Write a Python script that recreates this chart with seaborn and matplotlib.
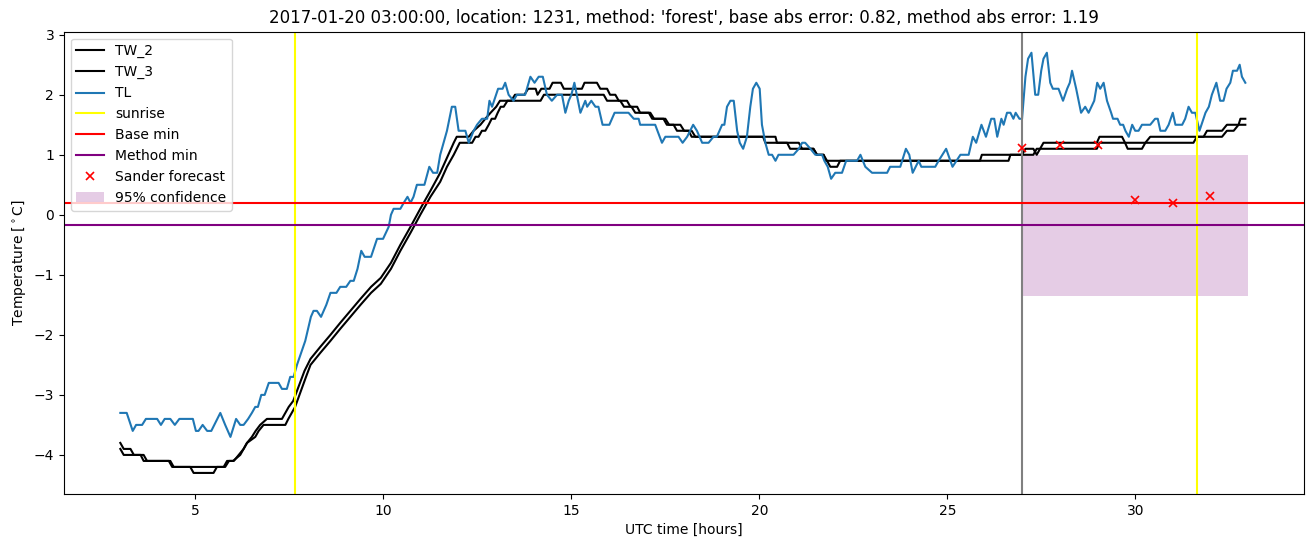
import numpy as np
import pandas as pd
import matplotlib
matplotlib.use("Agg")
import matplotlib.pyplot as plt
import seaborn as sns

# ---------------- data ----------------
tl_hours = [3.0, 3.17, 3.33, 3.42, 3.58, 3.68, 3.98, 4.08, 4.18, 4.33, 4.45, 4.57, 4.93, 5.01, 5.08,
            5.19, 5.31, 5.42, 5.66, 5.79, 5.93, 6.08, 6.19, 6.28, 6.4, 6.5, 6.59, 6.66, 6.75, 6.84,
            6.95, 7.21, 7.3, 7.43, 7.52, 7.61, 7.7, 7.92, 8.07, 8.14, 8.23, 8.34, 8.48, 8.59, 8.75,
            8.85, 9.01, 9.12, 9.21, 9.31, 9.41, 9.5, 9.67, 9.83, 9.99, 10.14, 10.2, 10.27, 10.45, 10.54,
            10.64, 10.72, 10.8, 10.89, 11.09, 11.22, 11.32, 11.43, 11.51, 11.69, 11.82, 11.91, 12.0, 12.18, 12.27,
            12.4, 12.49, 12.62, 12.76, 12.82, 12.89, 13.05, 13.17, 13.24, 13.33, 13.46, 13.55, 13.77, 13.91, 14.02,
            14.13, 14.24, 14.35, 14.48, 14.62, 14.75, 14.84, 14.93, 15.0, 15.08, 15.24, 15.37, 15.42, 15.53, 15.64,
            15.72, 15.83, 16.01, 16.15, 16.52, 16.66, 16.79, 16.83, 17.23, 17.41, 17.5, 17.85, 17.96, 18.08, 18.24,
            18.34, 18.48, 18.65, 18.78, 18.87, 19.01, 19.07, 19.14, 19.23, 19.32, 19.41, 19.48, 19.57, 19.67, 19.76,
            19.83, 19.92, 20.01, 20.07, 20.16, 20.25, 20.34, 20.43, 20.51, 20.91, 21.05, 21.14, 21.22, 21.36, 21.49,
            21.67, 21.73, 21.82, 21.91, 22.02, 22.2, 22.31, 22.6, 22.69, 22.82, 23.0, 23.4, 23.48, 23.75, 23.9,
            23.99, 24.08, 24.24, 24.31, 24.68, 24.77, 24.97, 25.14, 25.35, 25.57, 25.68, 25.77, 25.91, 26.03, 26.17,
            26.25, 26.33, 26.44, 26.5, 26.59, 26.68, 26.76, 26.82, 26.92, 26.99, 27.08, 27.15, 27.24, 27.34, 27.42,
            27.5, 27.56, 27.65, 27.74, 27.81, 27.96, 28.08, 28.19, 28.26, 28.32, 28.43, 28.56, 28.67, 28.76, 28.91,
            28.99, 29.07, 29.16, 29.25, 29.36, 29.41, 29.53, 29.6, 29.68, 29.74, 29.83, 29.92, 30.0, 30.09, 30.18,
            30.4, 30.53, 30.6, 30.67, 30.8, 30.89, 31.0, 31.07, 31.25, 31.33, 31.42, 31.51, 31.6, 31.71, 31.87,
            31.96, 32.04, 32.16, 32.26, 32.35, 32.43, 32.53, 32.6, 32.71, 32.78, 32.84, 32.93]
tl_values = [-3.3, -3.3, -3.6, -3.5, -3.5, -3.4, -3.4, -3.5, -3.4, -3.4, -3.5, -3.4, -3.4, -3.6, -3.6,
             -3.5, -3.6, -3.6, -3.3, -3.5, -3.7, -3.4, -3.5, -3.5, -3.4, -3.3, -3.2, -3.2, -3.0, -3.0,
             -2.8, -2.8, -2.9, -2.9, -2.7, -2.7, -2.5, -2.1, -1.7, -1.6, -1.6, -1.7, -1.5, -1.3, -1.3,
             -1.2, -1.2, -1.1, -1.1, -0.9, -0.6, -0.7, -0.7, -0.4, -0.4, -0.2, 0.0, 0.1, 0.1, 0.2,
             0.3, 0.2, 0.3, 0.5, 0.5, 0.8, 0.7, 0.7, 1.0, 1.4, 1.8, 1.8, 1.4, 1.4, 1.2,
             1.4, 1.5, 1.6, 1.6, 1.9, 1.8, 2.1, 2.1, 2.2, 2.0, 1.9, 2.0, 2.0, 2.3, 2.2,
             2.3, 2.3, 2.0, 1.9, 2.0, 2.0, 1.7, 1.9, 2.0, 2.2, 1.7, 1.9, 1.8, 1.9, 1.8,
             1.8, 1.5, 1.5, 1.7, 1.7, 1.6, 1.6, 1.5, 1.5, 1.2, 1.3, 1.3, 1.2, 1.3, 1.5,
             1.4, 1.2, 1.2, 1.3, 1.3, 1.5, 1.5, 1.8, 1.9, 1.9, 1.4, 1.2, 1.1, 1.3, 1.8,
             2.1, 2.2, 2.1, 1.5, 1.2, 1.0, 1.0, 0.9, 1.0, 1.0, 1.1, 1.2, 1.2, 1.1, 1.0,
             1.0, 0.9, 0.8, 0.6, 0.7, 0.7, 0.9, 0.9, 1.0, 0.8, 0.7, 0.7, 0.8, 0.8, 1.1,
             1.0, 0.7, 0.9, 0.8, 0.8, 0.9, 1.1, 0.8, 1.0, 1.0, 1.3, 1.2, 1.5, 1.3, 1.6,
             1.6, 1.3, 1.6, 1.5, 1.7, 1.7, 1.6, 1.7, 1.6, 1.6, 2.3, 2.6, 2.7, 2.0, 2.0,
             2.4, 2.6, 2.7, 2.2, 2.1, 2.1, 1.9, 2.1, 2.2, 2.4, 2.1, 1.7, 1.8, 1.7, 1.9,
             2.2, 2.1, 2.2, 1.9, 1.7, 1.6, 1.6, 1.5, 1.5, 1.4, 1.3, 1.5, 1.4, 1.4, 1.5,
             1.5, 1.6, 1.6, 1.4, 1.4, 1.5, 1.7, 1.5, 1.5, 1.6, 1.8, 1.7, 1.7, 1.4, 1.7,
             1.8, 2.0, 2.2, 1.9, 1.9, 2.1, 2.2, 2.4, 2.4, 2.5, 2.3, 2.2]

tw2_hours = [3.0, 3.09, 3.27, 3.36, 3.62, 3.71, 4.33, 4.42, 5.75, 5.84, 6.02, 6.15, 6.28, 6.37, 6.5,
             6.6, 6.72, 6.9, 7.3, 7.39, 7.48, 7.6, 7.9, 8.06, 8.32, 8.59, 8.85, 9.12, 9.39, 9.67,
             9.93, 10.2, 10.45, 10.72, 10.98, 11.25, 11.51, 11.69, 11.87, 11.95, 12.27, 12.4, 12.58, 12.71, 12.85,
             13.0, 13.1, 13.4, 13.5, 13.75, 13.85, 14.05, 14.1, 14.2, 14.42, 14.5, 14.72, 14.8, 15.28, 15.35,
             15.68, 15.77, 15.95, 16.03, 16.17, 16.26, 16.48, 16.57, 16.75, 16.83, 17.06, 17.15, 17.45, 17.54, 17.72,
             17.81, 18.12, 18.2, 20.1, 20.16, 20.74, 20.82, 21.44, 21.53, 21.71, 21.76, 25.87, 25.92, 26.99, 27.08,
             27.29, 27.38, 27.47, 27.56, 28.98, 29.05, 29.65, 29.73, 29.8, 30.18, 30.27, 30.4, 31.82, 31.91, 32.31,
             32.44, 32.75, 32.8, 32.93]
tw2_values = [-3.8, -3.9, -3.9, -4.0, -4.0, -4.1, -4.1, -4.2, -4.2, -4.1, -4.1, -4.0, -3.9, -3.8, -3.7,
              -3.6, -3.5, -3.4, -3.4, -3.3, -3.2, -3.1, -2.6, -2.4, -2.2, -2.0, -1.8, -1.6, -1.4, -1.2,
              -1.05, -0.8, -0.5, -0.2, 0.1, 0.4, 0.7, 0.95, 1.2, 1.3, 1.3, 1.4, 1.5, 1.6, 1.7,
              1.8, 1.9, 1.9, 2.0, 2.0, 2.1, 2.1, 2.0, 2.1, 2.1, 2.2, 2.2, 2.1, 2.1, 2.2,
              2.2, 2.1, 2.1, 2.0, 2.0, 1.9, 1.9, 1.8, 1.8, 1.7, 1.7, 1.6, 1.6, 1.5, 1.5,
              1.4, 1.4, 1.3, 1.3, 1.2, 1.2, 1.1, 1.1, 1.0, 1.0, 0.9, 0.9, 1.0, 1.0, 1.1,
              1.1, 1.0, 1.1, 1.2, 1.2, 1.3, 1.3, 1.2, 1.1, 1.1, 1.2, 1.3, 1.3, 1.4, 1.4,
              1.5, 1.5, 1.6, 1.6]

tw3_hours = [3.0, 3.09, 3.54, 3.62, 4.29, 4.38, 4.86, 4.95, 5.48, 5.57, 5.79, 5.89, 6.0, 6.19, 6.37,
             6.59, 6.68, 6.81, 7.39, 7.47, 7.56, 7.65, 7.94, 8.06, 8.32, 8.59, 8.85, 9.12, 9.39, 9.67,
             9.93, 10.2, 10.45, 10.72, 10.98, 11.25, 11.51, 11.69, 11.87, 11.95, 12.03, 12.36, 12.45, 12.53, 12.62,
             12.71, 12.8, 12.88, 12.97, 13.04, 13.12, 13.2, 13.3, 14.18, 14.27, 15.86, 15.95, 16.3, 16.4, 16.6,
             16.7, 17.1, 17.2, 17.5, 17.6, 17.9, 18.0, 18.2, 18.3, 20.43, 20.47, 21.05, 21.14, 21.44, 21.54,
             21.71, 21.8, 21.89, 22.07, 22.15, 26.63, 26.68, 27.08, 27.29, 27.38, 28.98, 29.05, 31.55, 31.64, 32.31,
             32.44, 32.62, 32.75, 32.93]
tw3_values = [-3.9, -4.0, -4.0, -4.1, -4.1, -4.2, -4.2, -4.3, -4.3, -4.2, -4.2, -4.1, -4.1, -4.0, -3.8,
              -3.7, -3.6, -3.5, -3.5, -3.4, -3.3, -3.2, -2.7, -2.5, -2.3, -2.1, -1.9, -1.7, -1.5, -1.3,
              -1.15, -0.9, -0.6, -0.3, 0.0, 0.3, 0.55, 0.8, 1.0, 1.1, 1.2, 1.2, 1.3, 1.3, 1.4,
              1.4, 1.5, 1.6, 1.6, 1.7, 1.8, 1.8, 1.9, 1.9, 2.0, 2.0, 1.9, 1.9, 1.8, 1.8,
              1.7, 1.7, 1.6, 1.6, 1.5, 1.5, 1.4, 1.4, 1.3, 1.3, 1.2, 1.2, 1.1, 1.1, 1.0,
              1.0, 0.9, 0.8, 0.8, 0.9, 0.9, 1.0, 1.0, 1.0, 1.1, 1.1, 1.2, 1.2, 1.3, 1.3,
              1.4, 1.4, 1.5, 1.5]

sunrise_hours = [7.65, 31.64]
forecast_start = 27.0
base_min = 0.2
method_min = -0.17
sander_hours = [27, 28, 29, 30, 31, 32]
sander_values = [1.12, 1.17, 1.17, 0.25, 0.2, 0.31]
conf_hours = [27.0, 33.0]
conf_low = -1.36
conf_high = 1.0

title = ("2017-01-20 03:00:00, location: 1231, method: 'forest', "
         "base abs error: 0.82, method abs error: 1.19")

assert len(tl_hours) == len(tl_values)
assert len(tw2_hours) == len(tw2_values)
assert len(tw3_hours) == len(tw3_values)

# ---------------- plot ----------------
fig = plt.figure(figsize=(13.13, 5.47), dpi=100)
ax = fig.add_axes([0.0487, 0.097, 0.9447, 0.845])

sns.lineplot(x=tw2_hours, y=tw2_values, color="black", label="TW_2", ax=ax,
             estimator=None, sort=False, linewidth=1.5)
sns.lineplot(x=tw3_hours, y=tw3_values, color="black", label="TW_3", ax=ax,
             estimator=None, sort=False, linewidth=1.5)
sns.lineplot(x=tl_hours, y=tl_values, color="#1f77b4", label="TL", ax=ax,
             estimator=None, sort=False, linewidth=1.5)

ax.axvline(sunrise_hours[0], color="yellow", label="sunrise")
ax.axvline(sunrise_hours[1], color="yellow")
ax.axvline(forecast_start, color="gray")
ax.axhline(base_min, color="red", label="Base min")
ax.axhline(method_min, color="purple", label="Method min")
sns.lineplot(x=sander_hours, y=sander_values, color="red", marker="x",
             linestyle="", markersize=6, markeredgewidth=1.2,
             markeredgecolor="red", markerfacecolor="red",
             label="Sander forecast", ax=ax, estimator=None, sort=False, zorder=5)
ax.fill_between(conf_hours, [conf_low, conf_low], [conf_high, conf_high],
                color="purple", alpha=0.2, linewidth=0, label="95% confidence")

ax.set_xlim(1.5, 34.5)
ax.set_ylim(-4.65, 3.05)
ax.set_xticks([5, 10, 15, 20, 25, 30])
ax.set_yticks([-4, -3, -2, -1, 0, 1, 2, 3])
ax.set_xlabel("UTC time [hours]")
ax.set_ylabel(r"Temperature [$^\circ$C]")
ax.set_title(title)
ax.legend(loc="upper left")

fig.savefig("out.png", dpi=100)
